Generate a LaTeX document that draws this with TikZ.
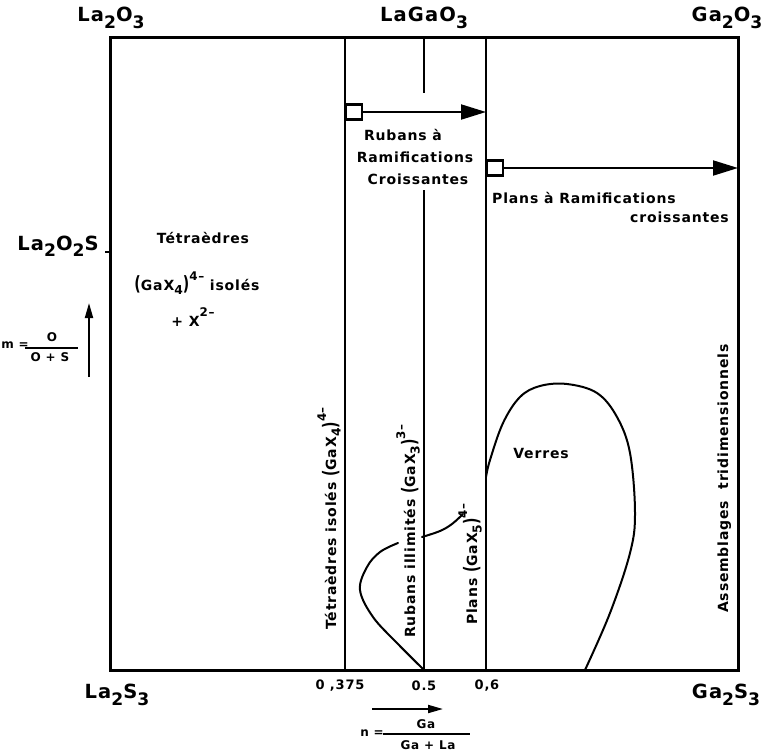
\documentclass[tikz,border=0pt]{standalone}
\usepackage{fontspec}
\usepackage{graphicx}
\usetikzlibrary{arrows.meta}
\newfontfamily\labfont[LetterSpace=6]{DejaVu Sans}
\newcommand\dn[1]{\raisebox{-0.6ex}{\scalebox{0.88}{#1}}}
\newcommand\up[1]{\raisebox{1.3ex}{\scalebox{0.85}{#1}}}
\newcommand\bp[1]{\raisebox{-0.1ex}{\scalebox{1}[1.4]{#1}}}
\begin{document}
\begin{tikzpicture}[x=1pt,y=-1pt,
  lab/.style={font=\labfont\bfseries\fontsize{14}{16}\selectfont, inner sep=0pt},
  big/.style={font=\labfont\bfseries\fontsize{19.5}{21}\selectfont, inner sep=0pt},
  num/.style={font=\labfont\bfseries\fontsize{13}{14}\selectfont, inner sep=0pt},
  small/.style={font=\labfont\bfseries\fontsize{12}{13}\selectfont, inner sep=0pt},
  vlab/.style={lab, rotate=90, anchor=base west},
  frame/.style={line width=3pt},
  sep/.style={line width=2.5pt},
  curve/.style={line width=2pt, line join=round, line cap=round},
  bigarrow/.style={line width=2pt, -{Triangle[length=25pt,width=15pt]}},
  smallarrow/.style={line width=2pt, -{Triangle[length=15pt,width=8pt]}},
  sq/.style={draw, line width=2.2pt, fill=white, minimum width=16pt, minimum height=15pt, inner sep=0pt}
]
\useasboundingbox (0,0) rectangle (768,753);
% frame
\coordinate (TL) at (110,37); \coordinate (BR) at (738,670);
\draw[frame] (TL) rectangle (BR);
% separators
\coordinate (a1) at (345,37); \coordinate (a2) at (345,670);
\coordinate (b1) at (424,37); \coordinate (b2) at (424,93);
\coordinate (b3) at (424,190); \coordinate (b4) at (424,670);
\coordinate (c1) at (486,37); \coordinate (c2) at (486,670);
\draw[sep] (a1)--(a2);
\draw[sep] (b1)--(b2);
\draw[sep] (b3)--(b4);
\draw[sep] (c1)--(c2);
\coordinate (k1) at (105,252); \coordinate (k2) at (110,252);
\draw[sep] (k1)--(k2);
% arrows with squares
\coordinate (t1) at (486,112);
\coordinate (t2) at (738,168);
\node[sq] (sq1) at (354,112) {};
\node[sq] (sq2) at (495,168) {};
\draw[bigarrow] (sq1.east) -- (t1);
\draw[bigarrow] (sq2.east) -- (t2);
% top labels
\node[big] (la2o3) at (111,18) {La\dn{2}O\dn{3}};
\node[big] (lagao3) at (424,18) {LaGaO\dn{3}};
\node[big] (ga2o3) at (727,18) {Ga\dn{2}O\dn{3}};
% bottom labels
\node[big] (la2s3) at (117,695) {La\dn{2}S\dn{3}};
\node[big] (ga2s3) at (726,695) {Ga\dn{2}S\dn{3}};
\node[num] (n0375) at (340,686) {0 ,375};
\node[num] (n05) at (424,686) {0.5};
\node[num] (n06) at (487,686) {0,6};
% n axis
\coordinate (na1) at (372,709); \coordinate (na2) at (443,709);
\draw[smallarrow] (na1) -- (na2);
\node[small, anchor=east] (neq) at (384,733) {n =};
\node[small] (nnum) at (426,724) {Ga};
\node[small] (nden) at (428,745) {Ga + La};
\coordinate (nf1) at (383,734); \coordinate (nf2) at (470,734);
\draw[line width=1.2pt] (nf1)--(nf2);
% m axis
\node[big] (la2o2s) at (58,246) {La\dn{2}O\dn{2}S};
\node[small] (meq) at (15,345) {m =};
\node[small] (mnum) at (52,337) {O};
\node[small] (mden) at (50,357) {O + S};
\coordinate (mf1) at (25,348); \coordinate (mf2) at (78,348);
\draw[line width=1.2pt] (mf1)--(mf2);
\coordinate (ma1) at (89,377); \coordinate (ma2) at (89,303);
\draw[smallarrow] (ma1) -- (ma2);
% interior labels
\node[lab] (tet) at (203,238) {Tétraèdres};
\node[lab] (gax4) at (197,283) {\bp{(}GaX\dn{4}\bp{)}\up{4–} isolés};
\node[lab] (x2) at (193,317) {+ X\up{2–}};
\node[lab] (rub1) at (403,135) {Rubans à};
\node[lab] (rub2) at (415,157) {Ramifications};
\node[lab] (rub3) at (418,179) {Croissantes};
\node[lab, anchor=west] (pl1) at (492,198) {Plans à Ramifications};
\node[lab, anchor=east] (pl2) at (729,217) {croissantes};
\node[lab] (verres) at (541,453) {Verres};
% vertical labels
\node[vlab] (v1) at (336,630) {Tétraèdres isolés \bp{(}GaX\dn{4}\bp{)}\up{4–}};
\node[vlab] (v2) at (415,638) {Rubans illimités \bp{(}GaX\dn{3}\bp{)}\up{3–}};
\node[vlab] (v3) at (477,625) {Plans \bp{(}GaX\dn{5}\bp{)}\up{4–}};
\node[vlab] (v4) at (728,613) {Assemblages\ \ tridimensionnels};
% curves
\draw[curve] plot[smooth, tension=0.6] coordinates {(424,670) (397,643) (373,617) (360,590) (367,567) (380,552) (398,543)};
\draw[curve] plot[smooth, tension=0.6] coordinates {(422,537) (440,531) (452,524) (463,514)};
\draw[curve] plot[smooth, tension=0.6] coordinates {(486,477) (490,460) (503,423) (520,397) (540,386) (567,384) (597,393) (617,417) (630,453) (635,513) (630,553) (610,613) (585,670)};
\end{tikzpicture}
\end{document}
